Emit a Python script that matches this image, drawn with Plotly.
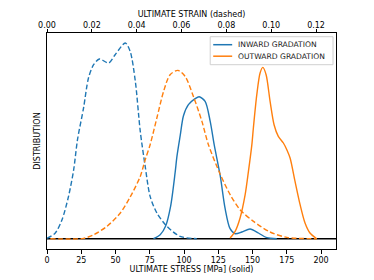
import plotly.graph_objects as go

# ---- data (density in arbitrary units) ----
inward_strain = [0.0, 0.0037, 0.0067, 0.0096, 0.0119, 0.0136, 0.0163, 0.0185, 0.0208, 0.0234,
                 0.0275, 0.0304, 0.0349, 0.0371, 0.0394, 0.0416, 0.0438, 0.0460, 0.0490, 0.0535,
                 0.0594, 0.0668]
inward_strain_den = [0.3, 5.7, 19, 42.3, 69, 99, 130.7, 160.7, 174, 179.7,
                     175.7, 184, 195.7, 187.3, 157.3, 107.3, 72.3, 42.3, 25.7, 12.3,
                     2.3, 0]

outward_strain = [0.0015, 0.0163, 0.0208, 0.0267, 0.0327, 0.0371, 0.0416, 0.0438, 0.0460, 0.0490,
                  0.0520, 0.0549, 0.0584, 0.0616, 0.0653, 0.0691, 0.0720, 0.0772, 0.0817, 0.0861,
                  0.0921, 0.0995, 0.1070, 0.1203]
outward_strain_den = [0, 0.3, 4, 12.3, 25.7, 41.7, 62.3, 79, 94, 120.7,
                      147.3, 164, 168.3, 162.3, 142.3, 117.3, 94, 64.7, 44, 29,
                      17.3, 6.7, 1.3, 0]

inward_stress = [77.7, 82.6, 86.6, 90.2, 93.5, 94.8, 97.2, 99.6, 103.2, 108.1,
                 111.0, 115.4, 119.1, 122.0, 126.4, 130.0, 133.6, 137.3, 142.2, 148.2,
                 154.3, 160.4, 167.7]
inward_stress_den = [0, 4, 12.7, 32.3, 66, 82, 103, 123, 134, 140,
                     142, 137.3, 117.3, 94, 63, 30, 10, 5, 6.7, 9.7,
                     5.7, 1, 0]

outward_stress = [133.6, 137.3, 140.9, 144.6, 147.0, 149.5, 150.6, 153.1, 155.5, 157.5,
                  159.9, 162.8, 165.7, 168.8, 172.5, 175.0, 177.4, 181.0, 184.7, 188.3,
                  191.9, 196.8]
outward_stress_den = [0.7, 7.3, 20.7, 44, 67.3, 94, 110.7, 144, 165.7, 171.3,
                      164, 137.3, 114, 102.3, 95.7, 89, 80.7, 57.3, 34, 15.7,
                      5.7, 0]

series_names = ["INWARD GRADATION", "OUTWARD GRADATION"]
stress_ticks = [0, 25, 50, 75, 100, 125, 150, 175, 200]
strain_ticks = [0.00, 0.02, 0.04, 0.06, 0.08, 0.10, 0.12]

BLUE = "#1f77b4"
ORANGE = "#ff7f0e"
FONT = "DejaVu Sans"

W, H = 374, 280
L, R, T, B = 46.5, 336, 33.3, 249.3

def px(x):
    return (x - L) / (R - L)

def py(y):
    return (B - y) / (B - T)

DASH = "5px,2.5px"
fig = go.Figure()

# dashed strain curves on top axis
fig.add_trace(go.Scatter(x=inward_strain, y=inward_strain_den, xaxis="x2", yaxis="y",
                         mode="lines", line=dict(color=BLUE, width=1.4, dash=DASH, shape="spline", smoothing=0.8),
                         showlegend=False, hoverinfo="skip"))
fig.add_trace(go.Scatter(x=outward_strain, y=outward_strain_den, xaxis="x2", yaxis="y",
                         mode="lines", line=dict(color=ORANGE, width=1.4, dash=DASH, shape="spline", smoothing=0.8),
                         showlegend=False, hoverinfo="skip"))
# solid stress curves on bottom axis
fig.add_trace(go.Scatter(x=inward_stress, y=inward_stress_den, xaxis="x", yaxis="y",
                         mode="lines", line=dict(color=BLUE, width=1.4, shape="spline", smoothing=0.8),
                         name=series_names[0], showlegend=False))
fig.add_trace(go.Scatter(x=outward_stress, y=outward_stress_den, xaxis="x", yaxis="y",
                         mode="lines", line=dict(color=ORANGE, width=1.4, shape="spline", smoothing=0.8),
                         name=series_names[1], showlegend=False))

shapes = [
    dict(type="line", xref="paper", yref="y", x0=0, x1=1, y0=0, y1=0,
         line=dict(color="black", width=1.5), layer="below"),
    # legend box
    dict(type="rect", xref="paper", yref="paper", x0=px(210), x1=px(333), y0=py(65), y1=py(37),
         line=dict(color="#d0d0d0", width=1), fillcolor="rgba(255,255,255,0.8)"),
    dict(type="line", xref="paper", yref="paper", x0=px(213), x1=px(232), y0=py(45), y1=py(45),
         line=dict(color=BLUE, width=1.5)),
    dict(type="line", xref="paper", yref="paper", x0=px(213), x1=px(232), y0=py(56.5), y1=py(56.5),
         line=dict(color=ORANGE, width=1.5)),
]
annotations = [
    dict(text=series_names[0], xref="paper", yref="paper", x=px(236), y=py(45),
         xanchor="left", yanchor="middle", showarrow=False, font=dict(family=FONT, size=7.6, color="#222")),
    dict(text=series_names[1], xref="paper", yref="paper", x=px(236), y=py(56.5),
         xanchor="left", yanchor="middle", showarrow=False, font=dict(family=FONT, size=7.6, color="#222")),
]

axis_font = dict(family=FONT, size=8, color="black")
fig.update_layout(
    width=W, height=H,
    margin=dict(l=L, r=W - R, t=T, b=H - B, pad=0, autoexpand=False),
    paper_bgcolor="white", plot_bgcolor="white",
    font=axis_font,
    showlegend=False,
    shapes=shapes,
    annotations=annotations,
    xaxis=dict(range=[0, 210.9], tickvals=stress_ticks, ticks="outside", ticklen=3.5, tickwidth=1,
               tickcolor="black", showline=True, linecolor="black", linewidth=1, mirror=False,
               showgrid=False, zeroline=False, tickfont=axis_font, automargin=False,
               title=dict(text="ULTIMATE STRESS [MPa] (solid)", font=axis_font, standoff=2)),
    xaxis2=dict(range=[0, 0.1289], tickvals=strain_ticks, ticktext=[f"{v:.2f}" for v in strain_ticks],
                overlaying="x", side="top", anchor="y", ticks="outside", ticklen=3.5, tickwidth=1,
                tickcolor="black", showline=True, linecolor="black", linewidth=1,
                showgrid=False, zeroline=False, tickfont=axis_font, automargin=False,
                ticklabelstandoff=-3,
                title=dict(text="ULTIMATE STRAIN (dashed)", font=axis_font, standoff=2)),
    yaxis=dict(range=[-10.3, 205.7], showticklabels=False, ticks="", showline=True, linecolor="black",
               linewidth=1, mirror=True, showgrid=False, zeroline=False, automargin=False,
               title=dict(text="DISTRIBUTION", font=axis_font, standoff=4)),
)

fig.write_html("out.html", config={"displayModeBar": False},
               post_script="document.body.style.margin='0';document.body.style.overflow='hidden';")
